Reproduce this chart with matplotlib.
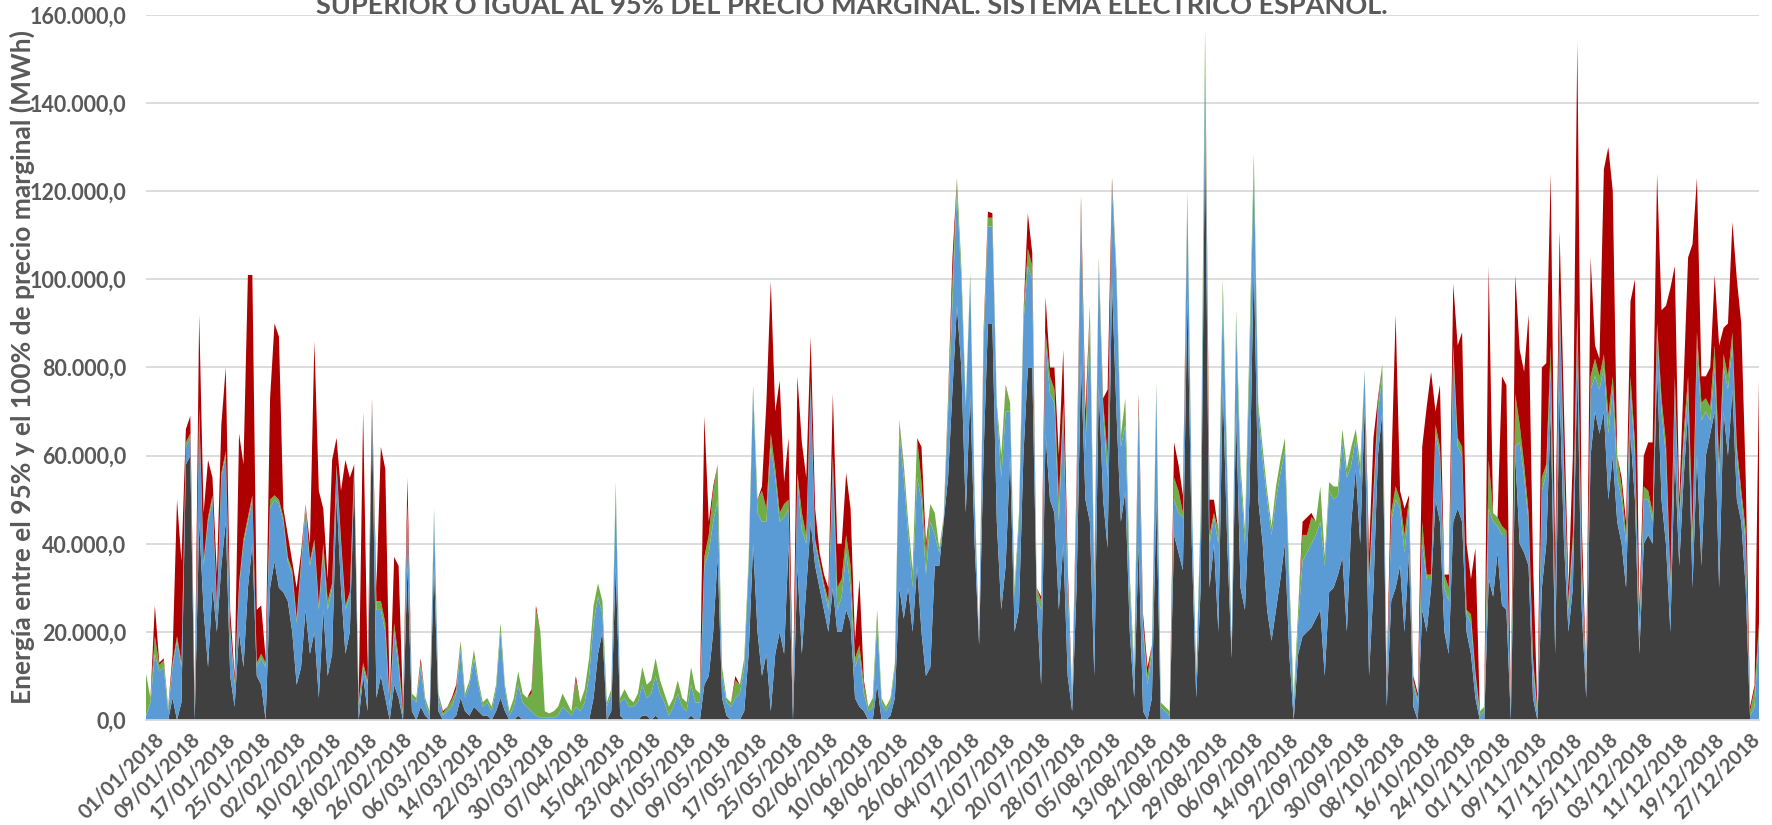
import matplotlib
matplotlib.use("Agg")
import matplotlib.pyplot as plt
import numpy as np
import pandas as pd
from matplotlib.ticker import FuncFormatter
import matplotlib.transforms as mtransforms

plt.rcParams['font.family'] = ['Lato', 'DejaVu Sans']

# ---------------- data (MWh, thousands) ----------------
dates = pd.date_range("2018-01-01", "2018-12-31", freq="D")
categories = [d.strftime("%d/%m/%Y") for d in dates]

dark = [
    0, 0, 0, 0, 0, 0, 5, 0, 4, 58, 60, 0, 45, 25, 12, 30, 20, 35, 45, 10,           # 0-19
    3, 20, 12, 30, 40, 10, 8, 0, 30, 36, 30, 29, 27, 20, 8, 12, 25, 15, 20, 5,       # 20-39
    25, 10, 15, 51, 30, 15, 20, 55, 0, 10, 2, 70, 5, 10, 5, 0, 8, 5, 0, 35,          # 40-59
    2, 0, 3, 1, 0, 35, 2, 0, 0, 0, 1, 5, 2, 1, 3, 2, 1, 1, 0, 2,                     # 60-79
    5, 2, 0, 0, 1, 0, 0, 0, 0, 0, 0, 0, 0, 0, 0, 0, 0, 0, 0, 0,                      # 80-99
    0, 5, 15, 20, 0, 2, 35, 1, 0, 0, 0, 0, 1, 1, 0, 1, 0, 0, 0, 0,                   # 100-119
    0, 0, 0, 1, 0, 0, 8, 10, 20, 37, 5, 1, 0, 0, 0, 2, 15, 40, 20, 10,               # 120-139
    15, 2, 15, 20, 15, 40, 0, 35, 15, 30, 45, 35, 30, 25, 20, 30, 20, 20, 25, 22,    # 140-159
    5, 3, 2, 0, 0, 8, 0, 0, 1, 5, 30, 23, 30, 20, 35, 20, 10, 12, 35, 35,            # 160-179
    45, 55, 75, 94, 80, 47, 74, 40, 17, 60, 90, 90, 45, 25, 35, 60, 20, 25, 60, 80,  # 180-199
    80, 27, 8, 65, 50, 47, 25, 40, 10, 2, 30, 81, 50, 45, 10, 76, 50, 39, 99, 70,    # 200-219
    45, 52, 20, 5, 40, 2, 0, 5, 50, 0, 0, 0, 42, 38, 34, 96, 40, 5, 30, 135,         # 220-239
    30, 40, 20, 76, 40, 14, 70, 30, 25, 50, 104.6, 50, 40, 25, 18, 25, 32, 40, 15, 0,  # 240-259
    15, 19, 20, 21, 23, 25, 10, 29, 30, 33, 37, 20, 45, 57, 40, 71, 10, 30, 60, 70,  # 260-279
    3, 27, 30, 35, 20, 38, 3, 0, 25, 20, 30, 50, 45, 20, 15, 45, 48, 45, 20, 15,     # 280-299
    5, 0, 0, 32, 28, 38, 26, 25, 0, 60, 40, 38, 35, 5, 0, 30, 40, 70, 15, 75,        # 300-319
    40, 20, 30, 80, 25, 5, 60, 70, 65, 70, 50, 60, 45, 40, 30, 65, 50, 15, 40, 42,   # 320-339
    40, 80, 50, 40, 20, 60, 35, 55, 70, 30, 60, 35, 60, 65, 70, 30, 70, 60, 75, 50,  # 340-359
    45, 30, 0, 0, 0,                                                                 # 360-364
]

blue = [
    1, 4, 15, 11, 12, 2, 7, 18, 8, 4, 4, 3, 25, 10, 33, 20, 5, 20, 15, 10,           # 0-19
    5, 10, 28, 15, 10, 2, 6, 12, 18, 14, 19, 16, 9, 13, 14, 23, 23, 20, 20, 20,      # 20-39
    13, 15, 15, 6, 10, 10, 8, 2, 3, 2, 6, 1, 20, 15, 15, 3, 12, 7, 1, 13,            # 40-59
    3, 4, 9, 3, 1, 11, 3, 1, 2, 3, 5, 11, 3, 7, 11, 6, 2, 3, 2, 5,                   # 60-79
    15, 5, 1, 3, 7, 4, 3, 2, 1, 0.5, 0.5, 0.5, 0.5, 1, 3, 2, 1, 3, 2, 4,             # 80-99
    10, 17, 13, 4, 3, 4, 17, 3, 5, 3, 3, 4, 7, 4, 6, 9, 6, 4, 1, 3,                  # 100-119
    6, 3, 2, 7, 4, 4, 27, 28, 25, 13, 5, 3, 3, 5, 6, 10, 20, 35, 27, 35,             # 120-139
    30, 60, 40, 25, 31, 8, 3, 20, 28, 10, 30, 5, 5, 5, 5, 28, 5, 8, 13, 8,           # 140-159
    7, 12, 4, 2, 3, 14, 4, 2, 3, 7, 35, 32, 12, 10, 20, 30, 23, 33, 7, 3,            # 160-179
    0, 15, 20, 26, 20, 24, 26, 10, 1, 25, 22, 22, 26, 30, 35, 10, 8, 20, 30, 23,     # 180-199
    20, 1, 17, 21, 24, 25, 20, 30, 20, 3, 20, 34, 11, 45, 20, 27, 20, 16, 22, 30,    # 200-219
    17, 15, 10, 5, 30, 18, 8, 10, 25, 3, 2, 1, 8, 9, 12, 22, 10, 5, 15, 14.5,        # 220-239
    10, 6, 20, 20, 15, 2, 20, 25, 15, 30, 20.4, 20, 19, 25, 24, 25, 24, 21, 15, 3,   # 240-259
    7, 17, 18, 19, 19, 20, 25, 23, 20, 18, 26, 35, 13, 7, 15, 8, 20, 20, 10, 8,      # 260-279
    5, 18, 20, 13, 18, 10, 5, 4, 15, 12, 2, 15, 15, 10, 12, 38, 14, 15, 4, 7,        # 280-299
    5, 1, 2, 16, 17, 6, 16, 17, 2, 2, 23, 17, 10, 7, 1, 22, 16, 10, 10, 20,          # 300-319
    15, 5, 10, 10, 10, 3, 15, 8, 10, 10, 15, 15, 10, 10, 10, 10, 10, 5, 10, 8,       # 320-339
    5, 8, 20, 20, 10, 15, 10, 7, 5, 10, 25, 33, 10, 3, 10, 25, 10, 15, 10, 10,       # 340-359
    5, 10, 1, 3, 20,                                                                 # 360-364
]

green = [
    9.5, 1, 4, 1.5, 1.5, 1, 1, 1, 1, 1, 1, 1, 1, 1, 1, 1, 1, 1, 1, 1,                # 0-19
    1, 1, 1, 1, 1, 1, 1, 1, 2, 1, 1, 1, 1, 1, 1, 1, 1, 1, 1, 1,                      # 20-39
    2, 2, 1, 1, 1, 1, 1, 1, 1, 1, 1, 1, 2, 2, 2, 1, 2, 2, 1, 1,                      # 40-59
    1, 1, 1, 1, 1, 2, 1, 0.5, 1, 1.5, 1, 2, 1, 1, 2, 1, 1, 1, 1, 1,                  # 60-79
    2, 1, 1, 2, 3, 2, 2, 4, 24, 19.5, 1.5, 1, 1.5, 2, 3, 2, 1, 6, 2, 3,              # 80-99
    4, 4, 3, 3, 1, 1, 2, 1, 2, 2, 1, 2, 4, 3, 3, 4, 3, 2, 2, 2,                      # 100-119
    3, 2, 2, 4, 3, 2, 2, 4, 7, 8, 2, 1, 1, 4, 2, 2, 2, 1, 3, 7,                      # 120-139
    3, 3, 2, 2, 3, 2, 1, 1, 4, 2, 2, 1, 1, 1, 2, 2, 5, 4, 4, 5,                      # 140-159
    2, 2, 2, 1, 2, 3, 1, 1, 1, 1, 2.8, 2.5, 3, 4, 9, 4, 5, 4, 5, 1,                  # 160-179
    1, 2, 5, 3, 3, 1, 1.4, 1, 0.5, 2, 2, 2, 1, 5, 5.7, 2, 2, 2, 2, 4,                # 180-199
    3, 2, 2, 2, 4, 3, 5, 2, 2, 1, 2, 2, 4, 4, 2, 2, 2, 5, 1, 2,                      # 200-219
    2.5, 6, 3, 2, 2, 2, 2, 2, 1.6, 1, 1, 1, 5, 5, 1, 2, 1, 1, 2, 7.5,                # 220-239
    2, 1, 3, 4, 2, 1, 3, 3, 3, 5, 3.5, 2, 2.7, 2, 2, 3, 3, 3, 3, 2,                  # 240-259
    3, 6, 4, 6, 3, 8, 2.4, 2, 3, 2, 3, 2, 4, 2, 3, 0.4, 2, 2, 2, 2.8,                # 260-279
    1, 2, 3, 2, 4, 2, 1, 1, 5, 1, 1, 2, 2, 3, 3, 2, 2, 2, 1, 2,                      # 280-299
    1, 1, 1, 11, 2, 2, 2, 1, 1, 12, 4, 3, 2, 2, 1, 3, 2, 5, 2, 2,                    # 300-319
    3, 2, 2, 3, 2, 1, 3, 4, 3, 3, 4, 3, 5, 3, 2, 3, 3, 2, 3, 2,                      # 320-339
    2, 2, 3, 3, 2, 3, 2, 3, 3, 3, 3, 4, 3, 3, 5, 3, 3, 3, 3, 2,                      # 340-359
    2, 3, 1, 4, 2,                                                                   # 360-364
]

red = [
    0, 0, 7, 0.5, 0.5, 0, 2, 31, 23, 3, 4, 1, 21, 11, 13, 4, 7, 11, 19, 4,           # 0-19
    1, 34, 17, 55, 50, 12, 11, 1, 23, 39, 37, 2, 5, 2, 7, 2, 0, 4, 45, 26,           # 20-39
    8, 5, 28, 6, 11, 33, 26, 0, 1, 57, 3, 1, 3, 35, 35, 1, 15, 21, 1, 6,             # 40-59
    0, 0, 1, 0, 0, 0, 0, 0.5, 0, 0.5, 1, 0, 0, 0, 0, 0, 0, 0, 0, 0,                  # 60-79
    0, 0, 0, 0, 0, 0, 0, 1, 1, 0, 0, 0, 0, 0, 0, 0, 0, 1, 0, 0,                      # 80-99
    0, 0, 0, 0, 0, 0, 0, 0, 0, 0, 0, 0, 0, 0, 0, 0, 0, 0, 0, 0,                      # 100-119
    0, 0, 0, 0, 0, 0, 32, 3, 1, 0, 0, 0, 0, 1, 0, 0, 0, 0, 0, 1,                     # 120-139
    24, 34.5, 13, 30, 5, 14, 1, 22, 16, 13, 10, 7, 2, 2, 3, 14, 10, 8, 14, 13,       # 140-159
    4, 15, 1, 0, 0, 0, 0, 0, 0, 0, 0.2, 0.5, 0, 0, 0, 8, 2, 0, 0, 0,                 # 160-179
    0, 1, 5, 0, 0, 0, 0, 0, 0, 1, 1.4, 1, 0, 0, 0.3, 0, 0, 0, 0, 8,                  # 180-199
    3, 0, 1, 8, 2, 5, 10, 12, 3, 0, 3, 2, 5, 0, 1, 0, 1, 15, 1, 0,                   # 200-219
    0, 0, 0, 0, 2, 2, 2, 0, 0, 0, 0, 0, 8, 6, 4, 0, 0, 0, 0, 0,                      # 220-239
    8, 3, 0, 0, 0, 0, 0, 0, 0, 0, 0, 0, 0, 0, 0, 0, 0, 0, 0, 0,                      # 240-259
    0, 3, 4, 1, 0, 0, 0, 0, 0, 0, 0, 0, 0, 0, 0, 0, 6, 12, 1, 0,                     # 260-279
    1, 9, 39, 2, 6, 1, 1, 1, 17, 38, 46, 3, 14, 0, 3, 14, 21, 26, 15, 8,             # 280-299
    28, 0, 0, 44, 0, 0, 34, 33, 0, 27, 17, 21, 45, 22, 0, 25, 23, 39, 9, 14,         # 300-319
    12, 3, 18, 61, 8, 1, 27, 3, 4, 42, 61, 42, 0, 2, 3, 17, 37, 3, 7, 11,            # 320-339
    16, 34, 20, 31, 66, 25, 3, 12, 27, 65, 35, 6, 5, 9, 16, 27, 6, 12, 25, 38,       # 340-359
    38, 12, 1, 1, 55,                                                                # 360-364
]

series_names = ["gris", "azul", "verde", "rojo"]
series_colors = ["#404040", "#5B9BD5", "#70AD47", "#AE0000"]

tick_step = 8
title = "SUPERIOR O IGUAL AL 95% DEL PRECIO MARGINAL. SISTEMA ELÉCTRICO ESPAÑOL."
ylabel = "Energía entre el 95% y el 100% de precio marginal (MWh)"

for name, s in zip(series_names, [dark, blue, green, red]):
    if len(s) != len(categories):
        raise ValueError(f"{name}: {len(s)} values")

# ---------------- figure ----------------
W, H = 1772, 825
fig = plt.figure(figsize=(W / 100, H / 100), dpi=100)
ax = fig.add_axes([146 / W, 1 - 720 / H, (1759 - 146) / W, (720 - 15) / H])

x = np.arange(len(categories))
vals = [np.array(s, dtype=float) * 1000 for s in (dark, blue, green, red)]
ax.stackplot(x, *vals, colors=series_colors, linewidth=0, zorder=2)

ax.set_xlim(0, len(categories) - 1)
ax.set_ylim(0, 160000)
ax.set_yticks(np.arange(0, 160001, 20000))
ax.grid(axis="y", color="#D9D9D9", linewidth=1.3, zorder=0)
ax.set_axisbelow(True)
for sp in ["top", "right", "left"]:
    ax.spines[sp].set_visible(False)
ax.spines["bottom"].set_color("#D9D9D9")
ax.spines["bottom"].set_linewidth(1.3)


def fmt(v, pos):
    s = f"{v:,.1f}"
    return s.replace(",", "X").replace(".", ",").replace("X", ".")


ax.yaxis.set_major_formatter(FuncFormatter(fmt))
ticks = x[::tick_step]
ax.set_xticks(ticks)
ax.set_xticklabels([categories[i] for i in ticks], rotation=45, ha="right",
                   va="top", rotation_mode="anchor")
ax.tick_params(axis="both", length=0, colors="#595959")
ax.tick_params(axis="y", pad=14, labelsize=15.5)
ax.tick_params(axis="x", pad=7, labelsize=14.5)
offset = mtransforms.ScaledTranslation(8 / 100, 0, fig.dpi_scale_trans)
for lab in ax.get_xticklabels():
    lab.set_fontweight("bold")
    lab.set_transform(lab.get_transform() + offset)
for lab in ax.get_yticklabels():
    lab.set_fontweight("bold")

fig.text(22 / W, 1 - 367 / H, ylabel, rotation=90, ha="center", va="center",
         fontsize=19, fontweight="bold", color="#595959")
fig.text(852 / W, 1 - 14 / H, title, ha="center", va="baseline",
         fontsize=19.5, fontweight="bold", color="#595959")

fig.savefig("out.png", dpi=100)
